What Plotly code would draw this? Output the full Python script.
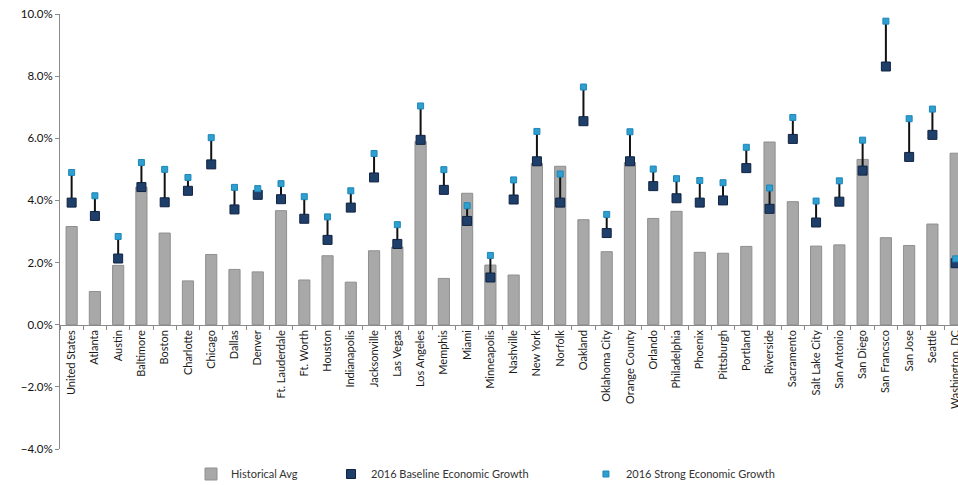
import plotly.graph_objects as go

cities = [
    "United States", "Atlanta", "Austin", "Baltimore", "Boston", "Charlotte",
    "Chicago", "Dallas", "Denver", "Ft. Lauderdale", "Ft. Worth", "Houston",
    "Indianapolis", "Jacksonville", "Las Vegas", "Los Angeles", "Memphis",
    "Miami", "Minneapolis", "Nashville", "New York", "Norfolk", "Oakland",
    "Oklahoma City", "Orange County", "Orlando", "Philadelphia", "Phoenix",
    "Pittsburgh", "Portland", "Riverside", "Sacramento", "Salt Lake City",
    "San Antonio", "San Diego", "San Francsco", "San Jose", "Seattle",
    "Washington, DC",
]

historical_avg = [
    3.16, 1.07, 1.91, 4.43, 2.95, 1.41, 2.26, 1.78, 1.70, 3.67, 1.44, 2.22,
    1.37, 2.38, 2.50, 5.90, 1.49, 4.23, 1.92, 1.60, 5.19, 5.10, 3.38, 2.35,
    5.22, 3.42, 3.65, 2.33, 2.30, 2.52, 5.88, 3.96, 2.53, 2.57, 5.32, 2.80,
    2.55, 3.24, 5.52,
]

baseline_2016 = [
    3.93, 3.50, 2.13, 4.43, 3.94, 4.31, 5.16, 3.71, 4.18, 4.04, 3.41, 2.73,
    3.77, 4.74, 2.60, 5.95, 4.34, 3.34, 1.52, 4.03, 5.26, 3.93, 6.55, 2.95,
    5.26, 4.46, 4.07, 3.93, 4.00, 5.04, 3.73, 5.98, 3.29, 3.96, 4.96, 8.31,
    5.40, 6.11, 1.98,
]

strong_2016 = [
    4.90, 4.15, 2.84, 5.22, 5.00, 4.74, 6.02, 4.42, 4.38, 4.54, 4.12, 3.47,
    4.31, 5.51, 3.22, 7.04, 4.99, 3.83, 2.23, 4.66, 6.22, 4.85, 7.65, 3.55,
    6.21, 5.01, 4.70, 4.64, 4.57, 5.71, 4.40, 6.67, 3.98, 4.63, 5.94, 9.77,
    6.63, 6.94, 2.12,
]

font_family = "Lato, 'Noto Sans', sans-serif"

fig = go.Figure()

fig.add_trace(go.Bar(
    x=cities,
    y=historical_avg,
    name="Historical Avg",
    legend="legend",
    marker=dict(color="#a8a8a8", line=dict(color="#8f8f8f", width=1)),
))

# Baseline markers, with a stem up to the strong-growth value
fig.add_trace(go.Scatter(
    x=cities,
    y=baseline_2016,
    name="2016 Baseline Economic Growth",
    legend="legend2",
    mode="markers",
    marker=dict(symbol="square", size=9, color="#1f3f6b",
                line=dict(color="#0f2240", width=1)),
    error_y=dict(
        type="data",
        symmetric=False,
        array=[s - b for s, b in zip(strong_2016, baseline_2016)],
        arrayminus=[0] * len(cities),
        color="#111111",
        thickness=2,
        width=0,
    ),
))

fig.add_trace(go.Scatter(
    x=cities,
    y=strong_2016,
    name="2016 Strong Economic Growth",
    legend="legend3",
    mode="markers",
    marker=dict(symbol="square", size=6, color="#2f9fd0",
                line=dict(color="#1d86b8", width=1)),
))

legend_common = dict(
    orientation="h",
    xanchor="left",
    y=-0.0575,
    yanchor="middle",
    font=dict(family=font_family, size=11, color="#333333"),
    bgcolor="rgba(0,0,0,0)",
)

fig.update_layout(
    width=958,
    height=485,
    margin=dict(l=60, r=0, t=14, b=36, autoexpand=False),
    paper_bgcolor="white",
    plot_bgcolor="white",
    bargap=0.52,
    font=dict(family=font_family, size=11, color="#222222"),
    showlegend=True,
    legend=dict(x=0.1459, **legend_common),
    legend2=dict(x=0.3018, **legend_common),
    legend3=dict(x=0.5857, **legend_common),
    xaxis=dict(
        type="category",
        range=[-0.5, 38.1],
        anchor="free",
        position=4 / 14,
        showline=True,
        linecolor="#8a8a8a",
        linewidth=1,
        ticks="outside",
        tickson="boundaries",
        ticklen=4,
        tickcolor="#8a8a8a",
        tickangle=-90,
        showgrid=False,
        tickfont=dict(size=11, color="#1a1a1a"),
    ),
    yaxis=dict(
        range=[-4, 10],
        dtick=2,
        tickformat=".1f",
        ticksuffix="%",
        showline=True,
        linecolor="#8a8a8a",
        linewidth=1,
        ticks="outside",
        ticklen=4,
        tickcolor="#8a8a8a",
        showgrid=False,
        zeroline=False,
        tickfont=dict(size=11.5, color="#111111"),
    ),
)

fig.write_html("out.html")
